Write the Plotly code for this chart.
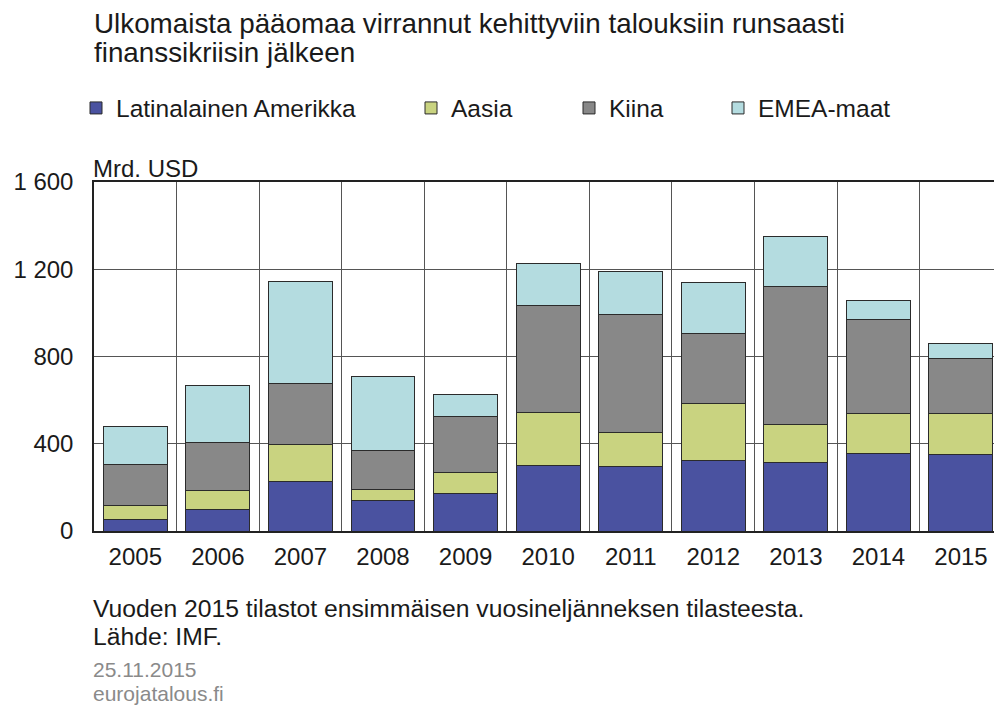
import plotly.graph_objects as go

years = ["2005", "2006", "2007", "2008", "2009", "2010", "2011", "2012", "2013", "2014", "2015"]
latin = [55, 100, 229, 138, 171, 300, 294, 323, 315, 355, 350]
asia = [63, 87, 167, 50, 95, 241, 157, 260, 173, 182, 187]
china = [188, 218, 281, 182, 260, 494, 543, 322, 633, 434, 255]
emea = [173, 262, 468, 338, 100, 190, 196, 236, 228, 86, 68]
series_names = ["Latinalainen Amerikka", "Aasia", "Kiina", "EMEA-maat"]
y_tickvals = [0, 400, 800, 1200, 1600]
y_ticktext = ["0", "400", "800", "1 200", "1 600"]
title_lines = ["Ulkomaista pääomaa virrannut kehittyviin talouksiin runsaasti",
               "finanssikriisin jälkeen"]
unit_label = "Mrd. USD"
note_lines = ["Vuoden 2015 tilastot ensimmäisen vuosineljänneksen tilasteesta.",
              "Lähde: IMF."]
footer_lines = ["25.11.2015", "eurojatalous.fi"]

colors = ["#4A52A0", "#C9D380", "#888888", "#B4DCE0"]
font_family = "Liberation Sans, Arial, sans-serif"
txt = "#1a1a1a"
gray = "#8a8a8a"

fig = go.Figure()
legend_ids = ["legend", "legend2", "legend3", "legend4"]
for vals, name, col, lg in zip([latin, asia, china, emea], series_names, colors, legend_ids):
    fig.add_trace(go.Bar(
        x=years, y=vals, name=name, legend=lg, showlegend=True,
        marker=dict(color=col, line=dict(color="#2b2b2b", width=1)),
    ))

W, H = 994, 715
L, R, T, B = 94, 0, 182, 184
pw, ph = W - L - R, H - T - B

def px(x):
    return (x - L) / pw

def py(y):
    return (H - B - y) / ph

legend_common = dict(orientation="h", yanchor="middle", y=py(108), xanchor="left",
                     font=dict(size=24.5, color=txt, family=font_family),
                     bgcolor="rgba(0,0,0,0)", itemwidth=30, visible=True)
leg_x = [76, 411, 569, 718]

def ann(text, x, y, size, color):
    return dict(text=text, x=px(x), y=py(y), xref="paper", yref="paper",
                xanchor="left", yanchor="middle", showarrow=False,
                font=dict(size=size, color=color, family=font_family))

annotations = [
    ann(title_lines[0], 92, 23, 27.8, txt),
    ann(title_lines[1], 92, 52, 27.8, txt),
    ann(unit_label, 91, 168, 24, txt),
    ann(note_lines[0], 91, 608, 24.7, txt),
    ann(note_lines[1], 91, 636, 24.7, txt),
    ann(footer_lines[0], 91, 669, 21, gray),
    ann(footer_lines[1], 91, 693, 21, gray),
]

fig.update_layout(
    width=W, height=H,
    margin=dict(l=L, r=R, t=T, b=B),
    paper_bgcolor="white", plot_bgcolor="white",
    barmode="stack", bargap=0.225,
    showlegend=True,
    font=dict(family=font_family, size=24, color=txt),
    legend=dict(**legend_common, x=px(leg_x[0])),
    legend2=dict(**legend_common, x=px(leg_x[1])),
    legend3=dict(**legend_common, x=px(leg_x[2])),
    legend4=dict(**legend_common, x=px(leg_x[3])),
    xaxis=dict(type="category", range=[-0.5, 10.4], tickson="boundaries",
               showgrid=True, gridcolor="#555555", gridwidth=1,
               showline=True, linecolor="#222222", linewidth=1.5, mirror=True,
               ticks="", tickfont=dict(size=24, color=txt), ticklabelstandoff=3),
    yaxis=dict(range=[0, 1600], tickvals=y_tickvals, ticktext=y_ticktext,
               showgrid=True, gridcolor="#555555", gridwidth=1,
               showline=True, linecolor="#222222", linewidth=1.5, mirror=False,
               ticks="", tickfont=dict(size=24, color=txt), ticklabelstandoff=14,
               zeroline=False),
    annotations=annotations,
)

fig.write_html("out.html", config={"displayModeBar": False},
               post_script="document.body.style.margin='0';")
